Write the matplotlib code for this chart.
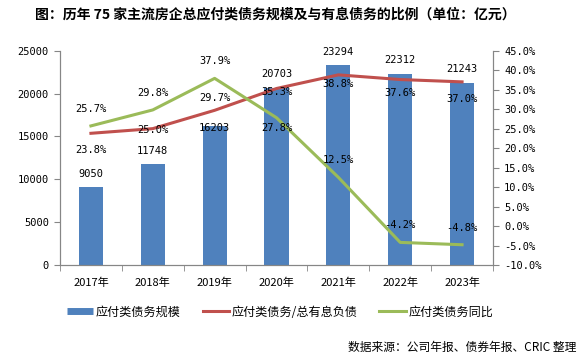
# 75家主流房企 应付类债务规模 / 占有息负债比例 / 同比
import matplotlib.pyplot as plt
from matplotlib.lines import Line2D
from matplotlib.ticker import FixedLocator, FuncFormatter

plt.rcParams['font.family'] = ['DejaVu Sans Mono', 'Noto Sans CJK SC']
plt.rcParams['axes.unicode_minus'] = False

# data
years = ['2017年', '2018年', '2019年', '2020年', '2021年', '2022年', '2023年']
payables = [9050, 11748, 16203, 20703, 23294, 22312, 21243]
ratio_pct = [23.8, 25.0, 29.7, 35.3, 38.8, 37.6, 37.0]
yoy_pct = [25.7, 29.8, 37.9, 27.8, 12.5, -4.2, -4.8]

# label offsets in pixels
bar_dy = [13, 13, -2, 14, 13, 14, 14]
ratio_dy = [-17, -1, 12, -4, -9, -13, -17]
yoy_dy = [17, 17, 17, -10, 17, 17, 17]

blue = '#4F81BD'
red = '#C0504D'
green = '#9BBB59'
gray = '#868686'
cjk = ['Noto Sans CJK SC', 'DejaVu Sans']

fig = plt.figure(figsize=(5.78, 3.6), dpi=100)
ax = fig.add_axes([60/578, 1 - 265/360, 433/578, (265 - 50.7)/360])
ax2 = ax.twinx()

x = list(range(len(years)))
ax.bar(x, payables, width=0.39, color=blue, zorder=2)
ax.set_ylim(0, 25000)
ax.set_xlim(-0.5, len(years) - 0.5)
ax.set_yticks(range(0, 25001, 5000))

ax2.plot(x, ratio_pct, color=red, lw=2.2, zorder=3)
ax2.plot(x, yoy_pct, color=green, lw=2.2, zorder=3)
ax2.set_ylim(-10, 45)
ax2.set_yticks(range(-10, 46, 5))
ax2.yaxis.set_major_formatter(FuncFormatter(lambda v, p: f'{v:.1f}%'))

ax.set_xticks(x)
ax.set_xticklabels(years, family=cjk, fontsize=8)
ax.xaxis.set_minor_locator(FixedLocator([i - 0.5 for i in range(len(years) + 1)]))
ax.tick_params(axis='x', which='major', length=0, pad=9)
ax.tick_params(axis='x', which='minor', length=4, color=gray, direction='out')
ax.tick_params(axis='y', length=4, color=gray, labelsize=7.5, pad=4)
ax2.tick_params(axis='y', length=4, color=gray, labelsize=7.5, pad=4)

for a in (ax, ax2):
    a.spines['top'].set_visible(False)
    for s in ('left', 'right', 'bottom'):
        a.spines[s].set_color(gray)
        a.spines[s].set_linewidth(0.8)

for i in x:
    ax.annotate(str(payables[i]), (i, payables[i]), xytext=(0, bar_dy[i]),
                textcoords='offset pixels', ha='center', va='center', fontsize=7.5)
    ax2.annotate(f'{ratio_pct[i]:.1f}%', (i, ratio_pct[i]), xytext=(0, ratio_dy[i]),
                 textcoords='offset pixels', ha='center', va='center', fontsize=7.5, zorder=5)
    ax2.annotate(f'{yoy_pct[i]:.1f}%', (i, yoy_pct[i]), xytext=(0, yoy_dy[i]),
                 textcoords='offset pixels', ha='center', va='center', fontsize=7.5, zorder=5)

fig.text(35/578, 1 - 15/360, '图：历年 75 家主流房企总应付类债务规模及与有息债务的比例（单位：亿元）',
         family=cjk, fontsize=10, fontweight='bold', ha='left', va='center')

handles = [Line2D([], [], color=blue, lw=5, solid_capstyle='butt'),
           Line2D([], [], color=red, lw=2.2),
           Line2D([], [], color=green, lw=2.2)]
labels = ['应付类债务规模', '应付类债务/总有息负债', '应付类债务同比']
fig.legend(handles, labels, loc='center', bbox_to_anchor=(280/578, 1 - 312/360), ncol=3,
           frameon=False, prop={'family': cjk, 'size': 8.7}, handlelength=2.2,
           handletextpad=0.2, columnspacing=1.8)

fig.text(576/578, 1 - 347/360, '数据来源：公司年报、债券年报、CRIC 整理',
         family=cjk, fontsize=8.5, ha='right', va='center')

fig.savefig('out.png', dpi=100)
